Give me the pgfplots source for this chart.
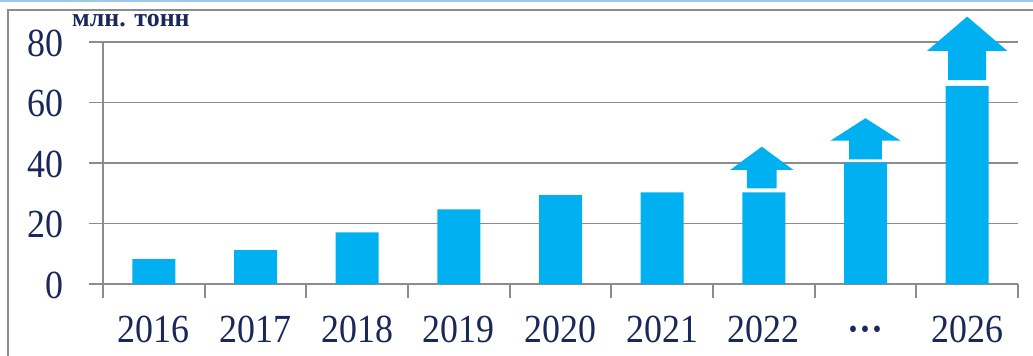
\documentclass[border=0pt]{standalone}
\usepackage{pgfplots}
\pgfplotsset{compat=1.18}
\usepackage{fontspec}
\setmainfont{Liberation Serif}
\newfontfamily\tickfont[FakeStretch=0.9]{Liberation Serif}
\definecolor{barblue}{HTML}{00B0F0}
\definecolor{navy}{RGB}{24,40,90}
\definecolor{gridgray}{HTML}{8C8C8C}
\definecolor{topblue}{RGB}{157,201,232}
\begin{document}
\begin{tikzpicture}
\begin{axis}[
  scale only axis, width=915bp, height=242bp,
  xmin=-0.5, xmax=8.5, ymin=0, ymax=80,
  clip=false,
  axis x line*=bottom, axis y line*=left,
  axis line style={gridgray, line width=1.7bp, -},
  ytick={0,20,40,60,80},
  ymajorgrids, grid style={gridgray, line width=1.7bp},
  xtick={-0.5,0.5,...,8.5},
  xticklabels={2016,2017,2018,2019,2020,2021,2022,{\vphantom{0}\textbf{···}},2026,{}},
  tick align=outside, major tick length=14bp,
  tick style={gridgray, line width=1.7bp},
  /pgf/number format/assume math mode=true,
  tick label style={font=\tickfont\fontsize{40}{40}\selectfont, text=navy, inner sep=0pt},
  xticklabel style={anchor=north, xshift=50.83bp, yshift=-18bp},
  yticklabel style={anchor=east, xshift=-25bp, yshift=-1bp},
]
\coordinate (o) at (rel axis cs:0,0);
\addplot[ybar, bar width=43bp, fill=barblue, draw=none] coordinates {
  (0,8.2) (1,11.2) (2,17.1) (3,24.7) (4,29.4) (5,30.3) (6,30.3) (7,40.1) (8,65.5)};
% arrows
\addplot[fill=barblue, draw=none] coordinates {
  (5.834,31.6) (5.834,37.7) (5.669,37.7) (5.98,45.4) (6.291,37.7) (6.126,37.7) (6.126,31.6)} -- cycle;
\addplot[fill=barblue, draw=none] coordinates {
  (6.838,41.2) (6.838,47.4) (6.656,47.4) (7,54.8) (7.344,47.4) (7.162,47.4) (7.162,41.2)} -- cycle;
\addplot[fill=barblue, draw=none] coordinates {
  (7.813,67.4) (7.813,77.1) (7.607,77.1) (8,88.4) (8.393,77.1) (8.187,77.1) (8.187,67.4)} -- cycle;
\end{axis}
\draw[gridgray, line width=2.5bp] ([shift={(-95bp,-90bp)}]o) -- ([shift={(-95bp,274bp)}]o) -- ([shift={(950bp,274bp)}]o);
\draw[topblue, line width=3bp] ([shift={(-120bp,283bp)}]o) -- ([shift={(950bp,283bp)}]o);
\node[anchor=base west, inner sep=0pt, text=navy, font=\bfseries\fontsize{26}{26}\selectfont] at ([shift={(-31bp,257bp)}]o) {млн. тонн};
\pgfresetboundingbox
\path[use as bounding box] ([shift={(-103bp,-72bp)}]o) rectangle ++(1033bp,356bp);
\end{tikzpicture}
\end{document}
